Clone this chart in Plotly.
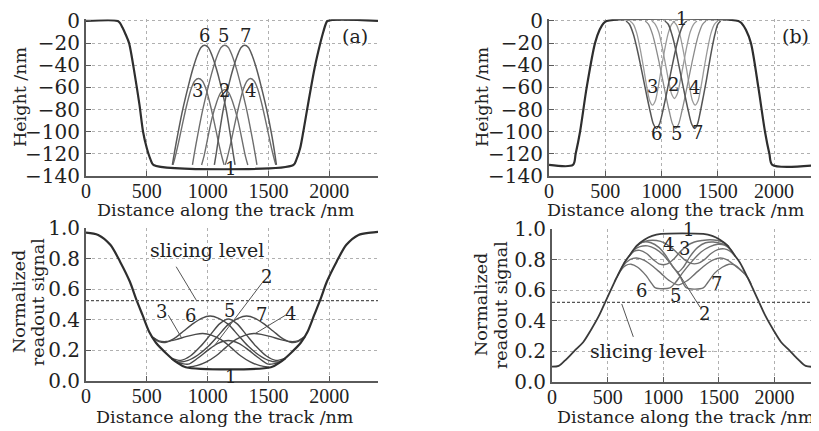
import plotly.graph_objects as go

########################
# DATA
########################

# (a) top: surface height profile of a pit, nm
A_TOP_1_X = [0, 260, 280, 300, 325, 354, 400, 440, 469, 500, 530, 555, 1705, 1730, 1760, 1786, 1830, 1880, 1926, 1950, 1970, 1985, 2400]
A_TOP_1_Y = [0, 0, -2, -6, -12, -20, -48, -76, -100, -115, -125, -130, -130, -125, -115, -100, -72, -42, -20, -10, -3, 0, 0]
A_TOP_6_X = [710, 725, 755, 797, 845, 879, 915, 945, 975, 1005, 1035, 1071, 1105, 1150, 1185, 1210, 1225]
A_TOP_5_X = [875, 890, 920, 962, 1010, 1044, 1080, 1110, 1140, 1170, 1200, 1236, 1270, 1318, 1360, 1390, 1405]
A_TOP_7_X = [1055, 1070, 1095, 1130, 1175, 1209, 1245, 1275, 1305, 1335, 1365, 1401, 1435, 1483, 1525, 1552, 1565]
A_TOP_BIG_Y = [-130, -120, -102, -79, -57, -43, -31, -24, -22, -24, -31, -43, -57, -79, -102, -120, -130]
A_TOP_3_X = [715, 730, 760, 795, 830, 865, 895, 925, 955, 985, 1020, 1055, 1090, 1120, 1135]
A_TOP_4_X = [1145, 1160, 1190, 1225, 1260, 1295, 1325, 1350, 1380, 1410, 1445, 1480, 1515, 1545, 1560]
A_TOP_SMALL_Y = [-130, -124, -110, -92, -75, -61, -54, -52, -54, -61, -75, -92, -110, -124, -130]
A_TOP_2_X = [950, 970, 1000, 1035, 1072, 1106, 1140, 1174, 1208, 1245, 1280, 1310, 1330]
A_TOP_2_Y = [-130, -122, -106, -88, -74, -65, -62, -65, -74, -88, -106, -122, -130]

# (b) top: surface height profile of a land, nm
B_TOP_1_X = [0, 213, 237, 276, 335, 409, 450, 485, 513, 1683, 1712, 1750, 1795, 1861, 1920, 1959, 1985, 2400]
B_TOP_1_Y = [-130, -130, -120, -100, -60, -20, -8, -2, 0, 0, -2, -8, -20, -60, -100, -120, -130, -130]
B_TOP_6_X = [685, 715, 750, 780, 810, 840, 870, 900, 928, 955, 982, 1010, 1040, 1070, 1100, 1130, 1160, 1195, 1225]
B_TOP_5_X = [855, 885, 920, 950, 980, 1010, 1040, 1070, 1098, 1125, 1152, 1180, 1210, 1240, 1270, 1300, 1330, 1365, 1395]
B_TOP_7_X = [1030, 1060, 1092, 1122, 1150, 1180, 1210, 1240, 1268, 1295, 1320, 1345, 1372, 1400, 1425, 1450, 1475, 1500, 1525]
B_TOP_BIG_Y = [0, -3, -12, -24, -38, -53, -68, -82, -93, -97, -93, -82, -68, -53, -38, -24, -12, -3, 0]
B_TOP_3_X = [720, 750, 780, 810, 840, 870, 895, 920, 945, 970, 1000, 1030, 1060, 1090, 1120]
B_TOP_4_X = [1100, 1130, 1160, 1190, 1220, 1250, 1275, 1300, 1325, 1350, 1380, 1410, 1440, 1470, 1500]
B_TOP_SMALL_Y = [0, -3, -11, -25, -42, -60, -72, -76, -72, -60, -42, -25, -11, -3, 0]
B_TOP_2_X = [915, 945, 975, 1005, 1035, 1065, 1090, 1115, 1140, 1165, 1195, 1225, 1255, 1285, 1315]
B_TOP_2_Y = [0, -3, -10, -23, -39, -55, -66, -70, -66, -55, -39, -23, -10, -3, 0]

# (a) bottom: normalized readout signal
A_BOT_1_X = [0, 100, 200, 280, 360, 410, 465, 520, 575, 660, 740, 820, 1520, 1600, 1680, 1765, 1820, 1875, 1930, 1980, 2060, 2140, 2240, 2340, 2400]
A_BOT_1_Y = [0.97, 0.955, 0.89, 0.78, 0.65, 0.54, 0.43, 0.32, 0.25, 0.18, 0.125, 0.09, 0.09, 0.125, 0.18, 0.25, 0.32, 0.43, 0.54, 0.65, 0.78, 0.89, 0.955, 0.97, 0.975]
A_BOT_6_X = [540, 600, 650, 720, 800, 880, 950, 1020, 1090, 1170, 1250, 1330, 1420, 1500, 1580, 1640]
A_BOT_6_Y = [0.29, 0.258, 0.252, 0.275, 0.325, 0.375, 0.41, 0.425, 0.41, 0.37, 0.30, 0.23, 0.17, 0.135, 0.125, 0.145]
A_BOT_7_X = [700, 760, 840, 920, 1010, 1090, 1170, 1250, 1320, 1390, 1460, 1540, 1620, 1690, 1740, 1800]
A_BOT_7_Y = [0.145, 0.125, 0.135, 0.17, 0.23, 0.30, 0.37, 0.41, 0.425, 0.41, 0.375, 0.325, 0.275, 0.252, 0.258, 0.29]
A_BOT_3_X = [540, 600, 660, 740, 820, 900, 960, 1030, 1110, 1190, 1270, 1350, 1430, 1500]
A_BOT_3_Y = [0.29, 0.262, 0.258, 0.27, 0.29, 0.305, 0.31, 0.30, 0.27, 0.22, 0.165, 0.125, 0.10, 0.09]
A_BOT_4_X = [840, 910, 990, 1070, 1150, 1230, 1310, 1380, 1440, 1520, 1600, 1680, 1740, 1800]
A_BOT_4_Y = [0.09, 0.10, 0.125, 0.165, 0.22, 0.27, 0.30, 0.31, 0.305, 0.29, 0.27, 0.258, 0.262, 0.29]
A_BOT_5_X = [700, 780, 860, 940, 1020, 1100, 1170, 1240, 1320, 1400, 1480, 1560, 1640]
A_BOT_5_Y = [0.15, 0.135, 0.165, 0.225, 0.30, 0.375, 0.405, 0.375, 0.30, 0.225, 0.165, 0.135, 0.15]
A_BOT_2_X = [760, 840, 920, 1000, 1080, 1170, 1260, 1340, 1420, 1500, 1580]
A_BOT_2_Y = [0.12, 0.11, 0.15, 0.20, 0.245, 0.265, 0.245, 0.20, 0.15, 0.11, 0.12]

# (b) bottom: normalized readout signal
B_BOT_1_X = [0, 60, 130, 210, 280, 350, 420, 490, 580, 650, 700, 760, 830, 900, 980, 1360, 1440, 1510, 1580, 1640, 1690, 1760, 1850, 1920, 1990, 2060, 2130, 2210, 2280, 2400]
B_BOT_1_Y = [0.10, 0.105, 0.15, 0.21, 0.26, 0.34, 0.43, 0.54, 0.68, 0.78, 0.83, 0.89, 0.93, 0.955, 0.968, 0.968, 0.955, 0.93, 0.89, 0.83, 0.78, 0.68, 0.54, 0.43, 0.34, 0.26, 0.21, 0.15, 0.105, 0.10]
B_BOT_6_X = [560, 610, 660, 710, 770, 840, 900, 930, 1060, 1110, 1180, 1260, 1340, 1420, 1490, 1550, 1600, 1650]
B_BOT_6_Y = [0.655, 0.72, 0.76, 0.77, 0.75, 0.70, 0.64, 0.615, 0.615, 0.65, 0.72, 0.79, 0.85, 0.885, 0.90, 0.895, 0.87, 0.82]
B_BOT_7_X = [690, 740, 790, 860, 930, 1000, 1080, 1150, 1210, 1360, 1400, 1460, 1530, 1590, 1640, 1700, 1760, 1790]
B_BOT_7_Y = [0.82, 0.865, 0.885, 0.89, 0.87, 0.83, 0.76, 0.69, 0.615, 0.615, 0.65, 0.71, 0.75, 0.77, 0.765, 0.73, 0.68, 0.64]
B_BOT_5_X = [590, 640, 700, 760, 830, 900, 980, 1060, 1135, 1210, 1290, 1370, 1440, 1510, 1570, 1630, 1680, 1730]
B_BOT_5_Y = [0.695, 0.76, 0.80, 0.81, 0.795, 0.76, 0.71, 0.66, 0.635, 0.66, 0.71, 0.76, 0.795, 0.81, 0.80, 0.77, 0.74, 0.71]
B_BOT_3_X = [640, 690, 740, 790, 850, 910, 970, 1030, 1090, 1150, 1210, 1280, 1350, 1420, 1490, 1550, 1590]
B_BOT_3_Y = [0.765, 0.82, 0.855, 0.86, 0.84, 0.80, 0.77, 0.77, 0.80, 0.85, 0.89, 0.915, 0.925, 0.93, 0.925, 0.91, 0.885]
B_BOT_4_X = [750, 800, 870, 940, 1010, 1070, 1130, 1190, 1250, 1310, 1370, 1430, 1490, 1550, 1600, 1650]
B_BOT_4_Y = [0.88, 0.91, 0.925, 0.925, 0.91, 0.88, 0.84, 0.80, 0.775, 0.775, 0.80, 0.84, 0.865, 0.87, 0.855, 0.82]
B_BOT_2_X = [760, 820, 890, 960, 1030, 1090, 1135, 1180, 1240, 1310, 1380, 1450, 1520, 1580]
B_BOT_2_Y = [0.89, 0.915, 0.91, 0.88, 0.82, 0.75, 0.72, 0.75, 0.82, 0.88, 0.91, 0.915, 0.905, 0.89]

SLICE_LEVEL_A = 0.525
SLICE_LEVEL_B = 0.52

X_TICKS = [0, 500, 1000, 1500, 2000]
HEIGHT_TICKS = [-140, -120, -100, -80, -60, -40, -20, 0]
SIGNAL_TICKS = [0.0, 0.2, 0.4, 0.6, 0.8, 1.0]

########################
# STYLE / LAYOUT
########################
SERIF = "DejaVu Serif"
TICK_SERIF = "Liberation Serif"
TEXT_COLOR = "#222222"
DARK = "#2e2e2e"

# the page body keeps its default 8px margin, so the figure is a bit smaller
PAGE_OFFSET = 8
FIG_W = 819 - PAGE_OFFSET
FIG_H = 431 - PAGE_OFFSET


def px(x):
    """window pixel column -> paper x"""
    return (x - PAGE_OFFSET) / FIG_W


def py(y):
    """window pixel row -> paper y"""
    return 1 - (y - PAGE_OFFSET) / FIG_H


def add_curve(fig, x, y, axis, color, width):
    """Add one profile / signal line to a given subplot"""
    fig.add_trace(
        go.Scatter(
            x=x, y=y, mode="lines",
            line=dict(color=color, width=width, shape="spline", smoothing=0.8),
            xaxis="x" + axis, yaxis="y" + axis,
            hoverinfo="skip", showlegend=False,
        )
    )


def add_label(fig, text, x, y, axis, size=18, yshift=0):
    fig.add_annotation(
        text=text, x=x, y=y, xref="x" + axis, yref="y" + axis, yshift=yshift,
        showarrow=False, font=dict(family=SERIF, size=size, color=TEXT_COLOR),
    )


def add_pointer(fig, x0, y0, x1, y1, axis):
    fig.add_shape(
        type="line", x0=x0, y0=y0, x1=x1, y1=y1,
        xref="x" + axis, yref="y" + axis,
        line=dict(color="#555555", width=1),
    )


def add_paper_text(fig, text, x, y, size=17.5, angle=0):
    fig.add_annotation(
        text=text, x=px(x), y=py(y), xref="paper", yref="paper",
        xanchor="center", yanchor="middle", textangle=angle,
        showarrow=False, font=dict(family=SERIF, size=size, color=TEXT_COLOR),
    )


fig = go.Figure()

# ---- (a) top ----
add_curve(fig, A_TOP_2_X, A_TOP_2_Y, "", "#6e6e6e", 1.4)
add_curve(fig, A_TOP_3_X, A_TOP_SMALL_Y, "", "#6e6e6e", 1.4)
add_curve(fig, A_TOP_4_X, A_TOP_SMALL_Y, "", "#6e6e6e", 1.4)
add_curve(fig, A_TOP_5_X, A_TOP_BIG_Y, "", "#6e6e6e", 1.4)
add_curve(fig, A_TOP_6_X, A_TOP_BIG_Y, "", "#5a5a5a", 1.5)
add_curve(fig, A_TOP_7_X, A_TOP_BIG_Y, "", "#5a5a5a", 1.5)
add_curve(fig, A_TOP_1_X, A_TOP_1_Y, "", DARK, 2.2)

# ---- (b) top ----
add_curve(fig, B_TOP_2_X, B_TOP_2_Y, "2", "#9a9a9a", 1.3)
add_curve(fig, B_TOP_3_X, B_TOP_SMALL_Y, "2", "#9a9a9a", 1.3)
add_curve(fig, B_TOP_4_X, B_TOP_SMALL_Y, "2", "#9a9a9a", 1.3)
add_curve(fig, B_TOP_5_X, B_TOP_BIG_Y, "2", "#8a8a8a", 1.3)
add_curve(fig, B_TOP_6_X, B_TOP_BIG_Y, "2", "#555555", 1.5)
add_curve(fig, B_TOP_7_X, B_TOP_BIG_Y, "2", "#555555", 1.5)
add_curve(fig, B_TOP_1_X, B_TOP_1_Y, "2", DARK, 2.2)

# ---- (a) bottom ----
for xs, ys in [(A_BOT_2_X, A_BOT_2_Y), (A_BOT_3_X, A_BOT_3_Y), (A_BOT_4_X, A_BOT_4_Y),
               (A_BOT_5_X, A_BOT_5_Y), (A_BOT_6_X, A_BOT_6_Y), (A_BOT_7_X, A_BOT_7_Y)]:
    add_curve(fig, xs, ys, "3", "#4a4a4a", 1.4)
add_curve(fig, A_BOT_1_X, A_BOT_1_Y, "3", DARK, 2.2)

# ---- (b) bottom ----
for xs, ys in [(B_BOT_2_X, B_BOT_2_Y), (B_BOT_3_X, B_BOT_3_Y), (B_BOT_4_X, B_BOT_4_Y),
               (B_BOT_5_X, B_BOT_5_Y), (B_BOT_6_X, B_BOT_6_Y), (B_BOT_7_X, B_BOT_7_Y)]:
    add_curve(fig, xs, ys, "4", "#707070", 1.4)
add_curve(fig, B_BOT_1_X, B_BOT_1_Y, "4", "#3a3a3a", 1.8)

# slicing levels
for axis, level in [("3", SLICE_LEVEL_A), ("4", SLICE_LEVEL_B)]:
    fig.add_shape(
        type="line", x0=0, x1=2400, y0=level, y1=level,
        xref="x" + axis, yref="y" + axis,
        line=dict(color="#555555", width=1.2, dash="3px,2px"),
    )

# curve labels, (a) top
for text, x, y in [("6", 971, -13), ("5", 1128, -13), ("7", 1309, -13),
                   ("3", 916, -63), ("2", 1136, -63), ("4", 1356, -63),
                   ("1", 1185, -133)]:
    add_label(fig, text, x, y, "")
add_label(fig, "(a)", 2214, -14, "", size=19)

# curve labels, (b) top
for text, x, y in [("3", 921, -59), ("2", 1105, -57), ("4", 1289, -60),
                   ("6", 957, -102), ("5", 1135, -102), ("7", 1319, -101)]:
    add_label(fig, text, x, y, "2")
add_label(fig, "1", 1180, 0, "2", yshift=2)
add_label(fig, "(b)", 2187, -14, "2", size=19)

# curve labels, (a) bottom
for text, x, y in [("3", 623, 0.453), ("6", 856, 0.43), ("5", 1180, 0.464),
                   ("7", 1446, 0.436), ("4", 1684, 0.442), ("2", 1487, 0.68),
                   ("1", 1185, 0.03)]:
    add_label(fig, text, x, y, "3")
add_label(fig, "slicing level", 993, 0.856, "3", size=19)
add_pointer(fig, 741, 0.747, 905, 0.53, "3")
add_pointer(fig, 677, 0.43, 787, 0.28, "3")
add_pointer(fig, 1640, 0.43, 1390, 0.31, "3")
add_pointer(fig, 1446, 0.64, 1050, 0.225, "3")

# curve labels, (b) bottom
for text, x, y in [("1", 1228, 0.997), ("4", 1045, 0.898), ("3", 1195, 0.872),
                   ("6", 806, 0.60), ("5", 1114, 0.563), ("7", 1478, 0.644),
                   ("2", 1374, 0.447)]:
    add_label(fig, text, x, y, "4")
add_label(fig, "slicing level", 851, 0.201, "4", size=19)
add_pointer(fig, 627, 0.51, 731, 0.295, "4")
add_pointer(fig, 1330, 0.49, 1130, 0.72, "4")
fig.add_shape(
    type="line", x0=1335, x1=1450, y0=0.2, y1=0.2, xref="x4", yref="y4",
    line=dict(color="#555555", width=1.2, dash="6px,6px"),
)

# axis titles (window pixel positions)
add_paper_text(fig, "Distance along the track /nm", 226, 210)
add_paper_text(fig, "Distance along the track /nm", 676, 210)
add_paper_text(fig, "Distance along the track /nm", 225, 417)
add_paper_text(fig, "Distance along the track /nm", 686, 417)
add_paper_text(fig, "Height /nm", 20, 97, angle=-90)
add_paper_text(fig, "Height /nm", 482, 97, angle=-90)
add_paper_text(fig, "Normalized", 19, 302, angle=-90)
add_paper_text(fig, "readout signal", 38, 302, angle=-90)
add_paper_text(fig, "Normalized", 481, 305, angle=-90)
add_paper_text(fig, "readout signal", 501, 305, angle=-90)

x_axis = dict(
    range=[0, 2400], tickvals=X_TICKS, showgrid=True, gridcolor="#b0b0b0",
    griddash="dot", gridwidth=1, showline=True, linecolor="#5a5a5a", linewidth=2,
    ticks="inside", ticklen=5, tickcolor="#5a5a5a", zeroline=False, automargin=False,
    ticklabelstandoff=-4, ticklabeloverflow="allow",
    tickfont=dict(family=TICK_SERIF, size=20, color=TEXT_COLOR),
)
y_axis = dict(
    showgrid=True, gridcolor="#b0b0b0", griddash="dot", gridwidth=1,
    showline=True, linecolor="#5a5a5a", linewidth=2, ticks="inside", ticklen=5,
    tickcolor="#5a5a5a", zeroline=False, automargin=False, ticklabeloverflow="allow",
    tickfont=dict(family=SERIF, size=20, color=TEXT_COLOR),
)
top_y = dict(y_axis, range=[-140, 1.5], tickvals=HEIGHT_TICKS)
bot_y = dict(y_axis, range=[0, 1.0], tickvals=SIGNAL_TICKS, tickformat=".1f")

top_dom = [py(176), py(19.3)]

fig.update_layout(
    width=FIG_W, height=FIG_H,
    margin=dict(l=0, r=0, t=0, b=0),
    paper_bgcolor="white", plot_bgcolor="white",
    xaxis=dict(x_axis, domain=[px(86), px(378)], anchor="y"),
    yaxis=dict(top_y, domain=top_dom, anchor="x"),
    xaxis2=dict(x_axis, domain=[px(549), 1.0], anchor="y2"),
    yaxis2=dict(top_y, domain=top_dom, anchor="x2"),
    xaxis3=dict(x_axis, domain=[px(86), px(378)], anchor="y3"),
    yaxis3=dict(bot_y, domain=[py(381), py(228)], anchor="x3"),
    xaxis4=dict(x_axis, domain=[px(552), 1.0], anchor="y4"),
    yaxis4=dict(bot_y, domain=[py(382), py(229)], anchor="x4"),
)

fig.write_html("out.html")
